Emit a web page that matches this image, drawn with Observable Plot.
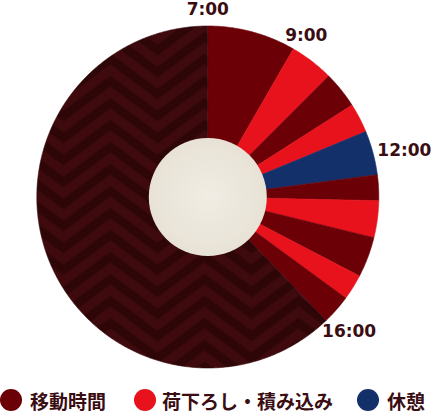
<!DOCTYPE html>
<html><head><meta charset="utf-8">
<script src="https://cdn.jsdelivr.net/npm/d3@7"></script>
<script src="https://cdn.jsdelivr.net/npm/@observablehq/plot@0.6"></script>
<style>
html,body{margin:0;padding:0;background:#fff;overflow:hidden;width:433px;height:412px}
#chart svg{display:block}
#legend{display:flex;align-items:center;height:40px;font-family:"Noto Sans CJK JP",sans-serif;font-weight:700;font-size:19px;color:#3a0d12;white-space:nowrap}
#legend .sw{width:22px;height:22px;border-radius:50%;flex:none}
</style></head>
<body>
<div id="chart"></div>
<div id="legend"></div>
<script>
// ---- data ----
const startTimes = ["7:00","9:00","10:00","10:50","11:30","12:30","13:05","13:55","14:50","15:25","16:05"];
const endTimes   = ["9:00","10:00","10:50","11:30","12:30","13:05","13:55","14:50","15:25","16:05","7:00"];
const activities = ["移動時間","荷下ろし・積み込み","移動時間","荷下ろし・積み込み","休憩","移動時間","荷下ろし・積み込み","移動時間","荷下ろし・積み込み","移動時間","勤務外"];
const legendLabels = ["移動時間","荷下ろし・積み込み","休憩"];
const tickLabels = ["7:00","9:00","12:00","16:00"];
const categories = ["移動時間","荷下ろし・積み込み","休憩","勤務外"];
const colors = ["#6b0107","#e8121c","#13306b","url(#chevron)"];

// ---- geometry helpers ----
const W = 433, H = 380, CX = 207.3, CY = 196.5, R = 171, R0 = 59;
const toMin = s => { const [h, m] = s.split(":").map(Number); return h * 60 + m; };
const base = toMin(startTimes[0]);
const ang = (s, end) => { let d = (toMin(s) - base + 1440) % 1440; if (end && d === 0) d = 1440; return d / 1440 * 2 * Math.PI; };

const rows = [];
startTimes.forEach((s, i) => {
  const a0 = ang(s, false), a1 = ang(endTimes[i], true);
  const n = Math.max(2, Math.ceil((a1 - a0) / 0.01));
  rows.push({id: i, cat: activities[i], x: 0, y: 0});
  for (let k = 0; k <= n; k++) {
    const a = a0 + (a1 - a0) * k / n;
    rows.push({id: i, cat: activities[i], x: R * Math.sin(a), y: R * Math.cos(a)});
  }
  rows.push({id: i, cat: activities[i], x: 0, y: 0});
});

const labels = tickLabels.map(t => {
  const a = ang(t, false);
  return {t, x: 190 * Math.sin(a) + 14 * Math.sin(a) ** 2, y: 187.5 * Math.cos(a) - 2.5 * Math.sin(a)};
});

const plot = Plot.plot({
  width: W, height: H,
  margin: 0,
  x: {domain: [-CX, W - CX], range: [0, W], axis: null},
  y: {domain: [CY - H, CY], range: [H, 0], axis: null},
  color: {domain: categories, range: colors},
  style: {background: "transparent", overflow: "visible"},
  marks: [
    Plot.line(rows, {x: "x", y: "y", z: "id", fill: "cat", stroke: "cat", strokeWidth: 0.6, curve: "linear-closed"}),
    Plot.dot([{x: 0, y: 0}], {x: "x", y: "y", r: R0, fill: "url(#paper)", stroke: "none"}),
    Plot.text(labels, {x: "x", y: "y", text: "t", fill: "#3a0d12", fontSize: 17, fontWeight: "bold", fontFamily: "'DejaVu Sans', sans-serif", textAnchor: "middle", lineAnchor: "middle"})
  ]
});

// chevron pattern for off-duty slice, paper look for centre
const ns = "http://www.w3.org/2000/svg";
let bands = "";
for (let y0 = 0; y0 <= 22 + 35 + 22; y0 += 22) {
  bands += `<polygon points="0,${y0} 47,${y0-35} 47,${y0-24} 0,${y0+11}" fill="#2e0608"/>`;
  bands += `<polygon points="47,${y0-35} 94,${y0} 94,${y0+11} 47,${y0-24}" fill="#2e0608"/>`;
}
const defs = document.createElementNS(ns, "defs");
defs.innerHTML = `<pattern id="chevron" patternUnits="userSpaceOnUse" x="63" y="0" width="94" height="22"><rect width="94" height="22" fill="#3e0a0d"/>${bands}</pattern>
<radialGradient id="paper"><stop offset="0" stop-color="#f1ede4"/><stop offset="1" stop-color="#e8e2d6"/></radialGradient>`;
plot.insertBefore(defs, plot.firstChild);
document.getElementById("chart").appendChild(plot);

// legend
const legendColors = colors.slice(0, 3);
const lg = document.getElementById("legend");
legendLabels.forEach((l, i) => {
  const it = document.createElement("div");
  it.style.cssText = `display:flex;align-items:center;margin-right:${i === 0 ? 28 : 24}px`;
  it.innerHTML = `<span class="sw" style="background:${legendColors[i]}"></span><span style="margin-left:${i===1?6:8}px">${l}</span>`;
  lg.appendChild(it);
});
</script>
</body></html>
